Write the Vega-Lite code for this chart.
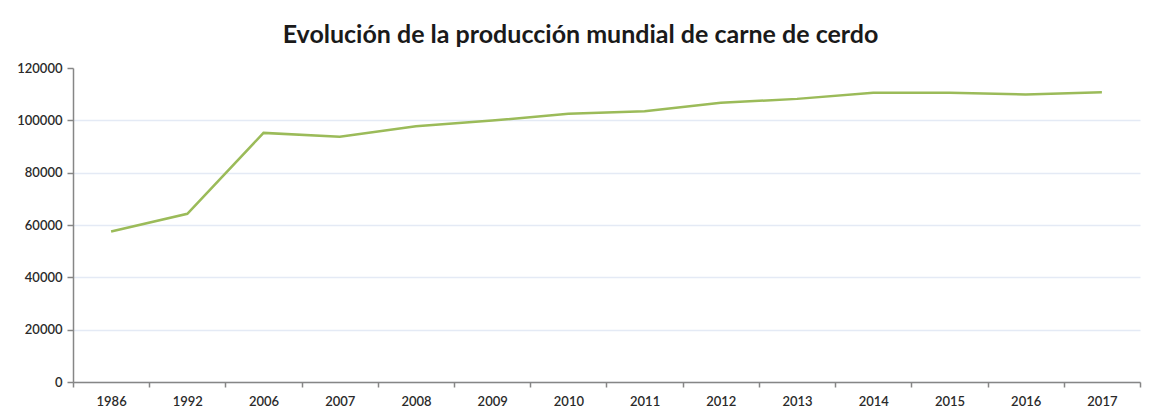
{
  "$schema": "https://vega.github.io/schema/vega-lite/v6.json",
  "width": 1067,
  "height": 314,
  "autosize": {"type": "none"},
  "padding": {"left": 73, "top": 68, "right": 13, "bottom": 36},
  "background": "white",
  "title": {
    "text": "Evolución de la producción mundial de carne de cerdo",
    "font": "Lato",
    "fontSize": 25,
    "fontWeight": "bold",
    "color": "#1a1a1a",
    "anchor": "middle",
    "dx": -26,
    "baseline": "alphabetic",
    "offset": 21,
    "dy": 27
  },
  "data": {
    "values": [
      {"year": "1986", "value": 57500},
      {"year": "1992", "value": 64300},
      {"year": "2006", "value": 95200},
      {"year": "2007", "value": 93700},
      {"year": "2008", "value": 97700},
      {"year": "2009", "value": 99900},
      {"year": "2010", "value": 102500},
      {"year": "2011", "value": 103500},
      {"year": "2012", "value": 106700},
      {"year": "2013", "value": 108200},
      {"year": "2014", "value": 110500},
      {"year": "2015", "value": 110500},
      {"year": "2016", "value": 109900},
      {"year": "2017", "value": 110700}
    ]
  },
  "mark": {"type": "line", "color": "#9BBB59", "strokeWidth": 2.5},
  "encoding": {
    "x": {
      "field": "year",
      "type": "ordinal",
      "sort": null,
      "scale": {"type": "band", "paddingInner": 0, "paddingOuter": 0},
      "axis": {
        "title": null,
        "labelAngle": 0,
        "labelFont": "Lato",
        "labelFontSize": 13,
        "labelFontWeight": 600,
        "labelColor": "#2a2a2a",
        "domainColor": "#868686",
        "domainWidth": 1.5,
        "tickColor": "#868686",
        "tickWidth": 1.5,
        "tickSize": 5,
        "tickBand": "extent",
        "labelPadding": 8,
        "grid": false
      }
    },
    "y": {
      "field": "value",
      "type": "quantitative",
      "scale": {"domain": [0, 120000], "nice": false},
      "axis": {
        "title": null,
        "values": [0, 20000, 40000, 60000, 80000, 100000, 120000],
        "format": "d",
        "labelFont": "Lato",
        "labelFontSize": 13,
        "labelFontWeight": 600,
        "labelColor": "#2a2a2a",
        "domainColor": "#868686",
        "domainWidth": 1.5,
        "tickColor": "#868686",
        "tickWidth": 1.5,
        "tickSize": 6,
        "labelPadding": 5,
        "grid": true,
        "gridColor": {"condition": {"test": "datum.value == 120000", "value": "transparent"}, "value": "#E4EAF5"},
        "gridWidth": 1.5
      }
    }
  },
  "config": {"view": {"stroke": null}}
}
